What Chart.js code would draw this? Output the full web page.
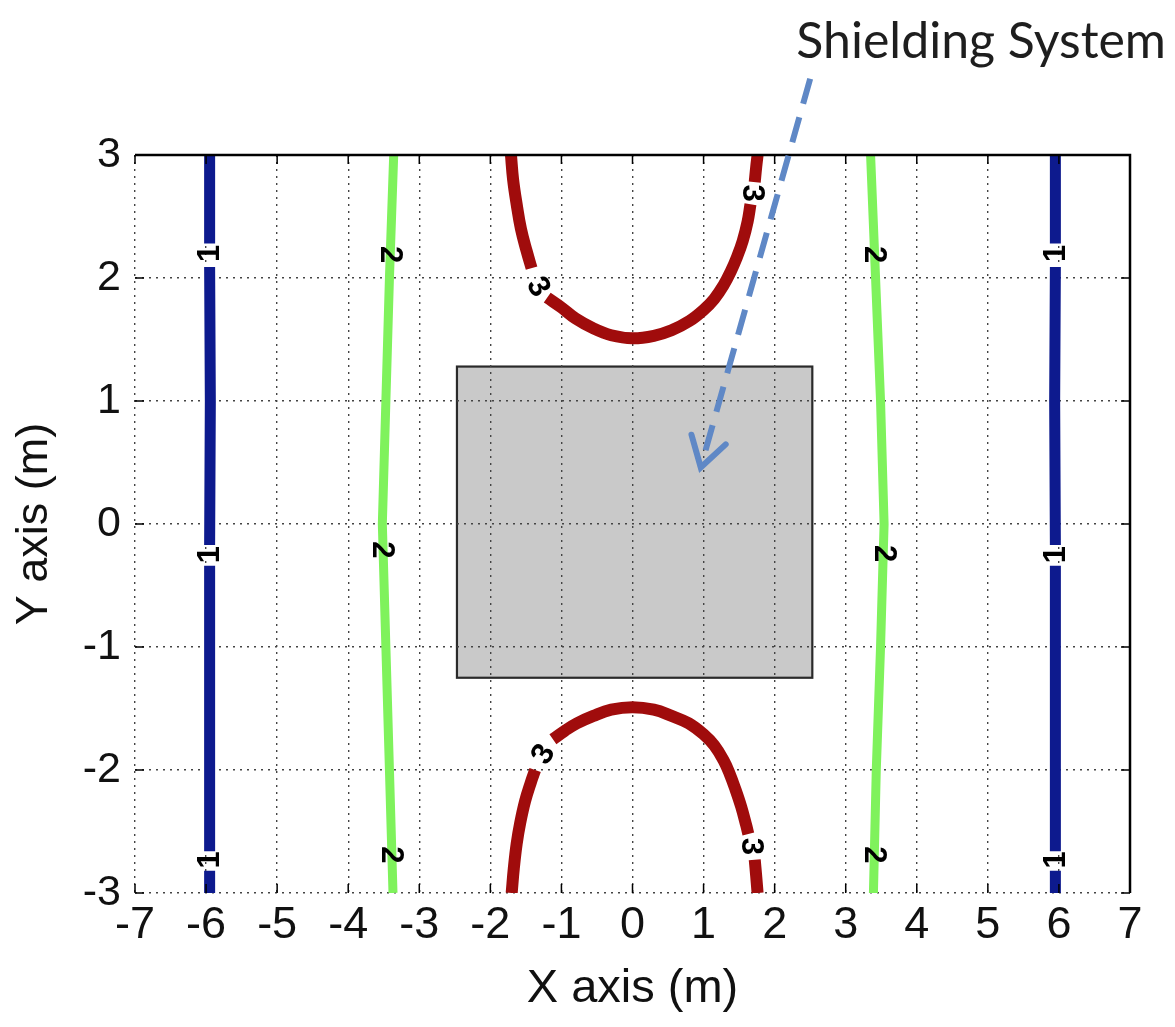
<!DOCTYPE html>
<html>
<head>
<meta charset="utf-8">
<title>Shielding System contour</title>
<script src="https://cdn.jsdelivr.net/npm/chart.js@4.4.1/dist/chart.umd.min.js"></script>
<style>
    html, body { margin: 0; padding: 0; background: #fff; }
    #wrap { position: relative; width: 1175px; height: 1027px; }
</style>
</head>
<body>
<div id="wrap"><canvas id="chart"></canvas></div>
<script>
// axis ticks
const xTickVals = [-7, -6, -5, -4, -3, -2, -1, 0, 1, 2, 3, 4, 5, 6, 7];
const yTickVals = [-3, -2, -1, 0, 1, 2, 3];

// contour level 1 (blue), null = gap where the label sits
const blueY      = [3.0, 2.28, null, 2.09, 1.0, -0.17, null, -0.34, -1.5, -2.66, null, -2.82, -3.0];
const blueLeftX  = [-5.95, -5.95, -5.95, -5.95, -5.94, -5.95, -5.95, -5.95, -5.95, -5.95, -5.95, -5.95, -5.95];
const blueRightX = [5.95, 5.95, 5.95, 5.95, 5.94, 5.95, 5.95, 5.95, 5.95, 5.95, 5.95, 5.95, 5.95];

// contour level 2 (green)
const greenY      = [3, 2, 1, 0, -1, -2, -3];
const greenLeftX  = [-3.36, -3.42, -3.47, -3.52, -3.47, -3.42, -3.37];
const greenRightX = [3.35, 3.42, 3.49, 3.54, 3.49, 3.43, 3.39];

// contour level 3 (red), upper and lower branch
const redTopX = [-1.71, -1.68, -1.63, -1.57, -1.49, -1.42, -1.42, -1.2, -1.0, -0.8, -0.55, -0.3, 0,
                 0.3, 0.55, 0.8, 1.0, 1.15, 1.28, 1.38, 1.47, 1.55, 1.62, 1.66, 1.66, 1.72, 1.74, 1.76];
const redTopY = [3.0, 2.8, 2.6, 2.4, 2.22, 2.08, null, 1.84, 1.76, 1.67, 1.59, 1.535, 1.51,
                 1.53, 1.575, 1.65, 1.74, 1.83, 1.94, 2.05, 2.17, 2.3, 2.46, 2.6, null, 2.78, 2.9, 3.0];
const redBotX = [-1.70, -1.67, -1.63, -1.58, -1.51, -1.43, -1.37, -1.37, -1.12, -0.95, -0.78, -0.55, -0.3, 0,
                 0.3, 0.55, 0.79, 1.0, 1.15, 1.28, 1.36, 1.45, 1.53, 1.6, 1.63, 1.63, 1.72, 1.74, 1.76];
const redBotY = [-3.0, -2.8, -2.6, -2.43, -2.25, -2.1, -2.0, null, -1.75, -1.68, -1.62, -1.56, -1.51, -1.49,
                 -1.51, -1.56, -1.62, -1.71, -1.80, -1.92, -2.02, -2.16, -2.3, -2.45, -2.52, null, -2.73, -2.86, -3.0];

// contour labels
const labelText  = ['1', '1', '1', '1', '1', '1', '2', '2', '2', '2', '2', '2', '3', '3', '3', '3'];
const labelX     = [-5.95, -5.95, -5.95, 5.95, 5.95, 5.95, -3.40, -3.52, -3.39, 3.40, 3.54, 3.41, -1.32, 1.69, -1.26, 1.68];
const labelY     = [2.2, -0.25, -2.73, 2.2, -0.25, -2.73, 2.19, -0.21, -2.69, 2.19, -0.24, -2.69, 1.93, 2.69, -1.87, -2.62];
const labelAngle = [-90, -90, -90, -90, -90, -90, 90, 90, 90, 90, 90, 90, 60, 90, -60, 90];

// shielding box and pointer arrow (data units)
const boxX = [-2.47, 2.53];
const boxY = [-1.25, 1.28];
const arrowX = [2.5, 0.96];
const arrowY = [3.62, 0.46];

function pts(xs, ys) {
    return xs.map((x, i) => ({ x: x, y: ys[i] }));
}

const FONT = "'Liberation Sans', Arial, sans-serif";

const extras = {
    id: 'extras',
    beforeDraw(chart) {
        // grey box sits under the grid
        const { ctx, scales: { x, y } } = chart;
        const l = x.getPixelForValue(boxX[0]), r = x.getPixelForValue(boxX[1]);
        const t = y.getPixelForValue(boxY[1]), b = y.getPixelForValue(boxY[0]);
        ctx.save();
        ctx.fillStyle = '#c9c9c9';
        ctx.fillRect(l, t, r - l, b - t);
        ctx.strokeStyle = '#2a2a2a';
        ctx.lineWidth = 2.2;
        ctx.strokeRect(l, t, r - l, b - t);
        ctx.restore();
    },
    afterDatasetsDraw(chart) {
        const { ctx, scales: { x, y } } = chart;
        ctx.save();
        ctx.fillStyle = '#000';
        ctx.font = 'bold 31px ' + FONT;
        ctx.textAlign = 'center';
        ctx.textBaseline = 'middle';
        labelText.forEach((t, i) => {
            ctx.save();
            ctx.translate(x.getPixelForValue(labelX[i]), y.getPixelForValue(labelY[i]));
            ctx.rotate(labelAngle[i] * Math.PI / 180);
            ctx.fillText(t, 0, 1);
            ctx.restore();
        });
        ctx.restore();
    },
    afterDraw(chart) {
        const { ctx, chartArea: a, scales: { x, y } } = chart;
        ctx.save();

        // solid top and right frame
        ctx.strokeStyle = '#000';
        ctx.lineWidth = 2.5;
        ctx.beginPath();
        ctx.moveTo(a.left, a.top);
        ctx.lineTo(a.right, a.top);
        ctx.lineTo(a.right, a.bottom);
        ctx.stroke();

        // inward tick marks
        ctx.lineWidth = 1.5;
        ctx.beginPath();
        xTickVals.forEach(v => {
            const px = x.getPixelForValue(v);
            ctx.moveTo(px, a.bottom); ctx.lineTo(px, a.bottom - 9);
            ctx.moveTo(px, a.top); ctx.lineTo(px, a.top + 9);
        });
        yTickVals.forEach(v => {
            const py = y.getPixelForValue(v);
            ctx.moveTo(a.left, py); ctx.lineTo(a.left + 9, py);
            ctx.moveTo(a.right, py); ctx.lineTo(a.right - 9, py);
        });
        ctx.stroke();

        // dashed arrow
        const x0 = x.getPixelForValue(arrowX[0]), y0 = y.getPixelForValue(arrowY[0]);
        const x1 = x.getPixelForValue(arrowX[1]), y1 = y.getPixelForValue(arrowY[1]);
        ctx.strokeStyle = '#5f88c6';
        ctx.lineWidth = 6;
        ctx.lineCap = 'butt';
        ctx.setLineDash([26, 14]);
        ctx.beginPath();
        ctx.moveTo(x0, y0);
        ctx.lineTo(x1, y1);
        ctx.stroke();
        ctx.setLineDash([]);
        ctx.lineCap = 'round';
        const ang = Math.atan2(y1 - y0, x1 - x0);
        ctx.beginPath();
        ctx.moveTo(x1 - 34 * Math.cos(ang - 0.55), y1 - 34 * Math.sin(ang - 0.55));
        ctx.lineTo(x1, y1);
        ctx.lineTo(x1 - 34 * Math.cos(ang + 0.55), y1 - 34 * Math.sin(ang + 0.55));
        ctx.stroke();

        // annotation
        ctx.fillStyle = '#1e1e1e';
        ctx.font = "50px Lato, 'Open Sans', sans-serif";
        ctx.textAlign = 'right';
        ctx.textBaseline = 'alphabetic';
        ctx.fillText('Shielding System', 1166, 58);

        ctx.restore();
    }
};

const ctx = document.getElementById('chart').getContext('2d');

new Chart(ctx, {
    type: 'line',
    data: {
        datasets: [
            { data: pts(blueLeftX, blueY), borderColor: '#0d1a8e', borderWidth: 11 },
            { data: pts(blueRightX, blueY), borderColor: '#0d1a8e', borderWidth: 11 },
            { data: pts(greenLeftX, greenY), borderColor: '#7ff25c', borderWidth: 9 },
            { data: pts(greenRightX, greenY), borderColor: '#7ff25c', borderWidth: 9 },
            { data: pts(redTopX, redTopY), borderColor: '#a00c0c', borderWidth: 12, tension: 0.4 },
            { data: pts(redBotX, redBotY), borderColor: '#a00c0c', borderWidth: 12, tension: 0.4 }
        ]
    },
    options: {
        responsive: true,
        maintainAspectRatio: false,
        devicePixelRatio: 1,
        animation: false,
        events: [],
        layout: { padding: { top: 155, right: 45, left: 0, bottom: 0 } },
        elements: {
            point: { radius: 0 },
            line: { borderCapStyle: 'butt', fill: false }
        },
        plugins: {
            legend: { display: false },
            tooltip: { enabled: false }
        },
        scales: {
            x: {
                type: 'linear',
                min: -7,
                max: 7,
                afterFit: s => { s.height = 134; },
                afterBuildTicks: s => { s.ticks = xTickVals.map(v => ({ value: v })); },
                grid: { color: '#444', lineWidth: 1.4, drawTicks: false },
                border: { display: false, dash: [2, 5] },
                ticks: {
                    color: '#111',
                    padding: 6,
                    maxRotation: 0,
                    autoSkip: false,
                    font: { family: FONT, size: 45 },
                    callback: v => String(v)
                },
                title: {
                    display: true,
                    text: 'X axis (m)',
                    color: '#111',
                    font: { family: FONT, size: 47 },
                    padding: { top: 0, bottom: 10 }
                }
            },
            y: {
                type: 'linear',
                min: -3,
                max: 3,
                afterFit: s => { s.width = 135; },
                afterBuildTicks: s => { s.ticks = yTickVals.map(v => ({ value: v })); },
                grid: { color: '#444', lineWidth: 1.4, drawTicks: false },
                border: { display: false, dash: [2, 5] },
                ticks: {
                    color: '#111',
                    padding: 14,
                    autoSkip: false,
                    font: { family: FONT, size: 43 },
                    callback: v => String(v)
                },
                title: {
                    display: true,
                    text: 'Y axis (m)',
                    color: '#111',
                    font: { family: FONT, size: 45 },
                    padding: { top: 8, bottom: 0 }
                }
            }
        }
    },
    plugins: [extras]
});
</script>
</body>
</html>
